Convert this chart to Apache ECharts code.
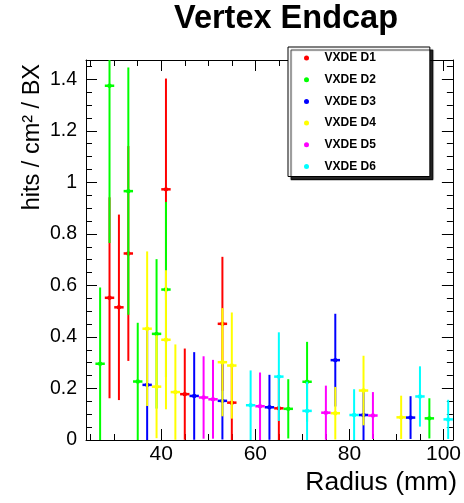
<!DOCTYPE html>
<html>
<head>
<meta charset="utf-8">
<script src="https://cdn.jsdelivr.net/npm/echarts@6/dist/echarts.min.js"></script>
<style>
    html, body { margin: 0; padding: 0; background: #fff; }
    #chart { width: 464px; height: 503px; }
</style>
</head>
<body>
<div id="chart"></div>
<script>
    // bin centre (mm), rate (hits / cm2 / BX) and vertical error, one set per disk
    var d1X = [29, 31, 33, 41, 45, 53, 55, 65];
    var d1Y = [0.552, 0.515, 0.724, 0.973, 0.178, 0.451, 0.145, 0.123];
    var d1Err = [0.39, 0.36, 0.417, 0.43, 0.177, 0.26, 0.145, 0.123];

    var d2X = [27, 29, 33, 35, 39, 41, 67, 71, 97];
    var d2Y = [0.296, 1.375, 0.966, 0.227, 0.412, 0.584, 0.121, 0.226, 0.084];
    var d2Err = [0.296, 0.61, 0.48, 0.228, 0.29, 0.34, 0.115, 0.155, 0.078];

    var d3X = [37, 47, 53, 63, 77, 83, 93];
    var d3Y = [0.214, 0.171, 0.152, 0.127, 0.31, 0.097, 0.087];
    var d3Err = [0.22, 0.17, 0.15, 0.126, 0.18, 0.097, 0.083];

    var d4X = [37, 39, 41, 43, 53, 55, 77, 83, 91];
    var d4Y = [0.432, 0.207, 0.389, 0.186, 0.302, 0.289, 0.104, 0.192, 0.088];
    var d4Err = [0.30, 0.2, 0.27, 0.185, 0.21, 0.206, 0.102, 0.135, 0.084];

    var d5X = [49, 51, 61, 75, 85];
    var d5Y = [0.165, 0.158, 0.131, 0.106, 0.095];
    var d5Err = [0.16, 0.153, 0.131, 0.105, 0.091];

    var d6X = [59, 65, 71, 81, 95, 101];
    var d6Y = [0.135, 0.246, 0.113, 0.097, 0.169, 0.08];
    var d6Err = [0.135, 0.172, 0.113, 0.1, 0.117, 0.076];

    var binHalfWidth = 1;
    var xLabelValues = [40, 60, 80, 100];

    var seriesNames = ['VXDE D1', 'VXDE D2', 'VXDE D3', 'VXDE D4', 'VXDE D5', 'VXDE D6'];
    var seriesColors = ['#ff0000', '#00ff00', '#0000ff', '#ffff00', '#ff00ff', '#00ffff'];

    var FONT = '"Liberation Sans", Arial, Helvetica, sans-serif';

    function toPoints(xs, ys, errs) {
        return xs.map(function (x, i) { return [x, ys[i], errs[i]]; });
    }

    var allPoints = [
        toPoints(d1X, d1Y, d1Err),
        toPoints(d2X, d2Y, d2Err),
        toPoints(d3X, d3Y, d3Err),
        toPoints(d4X, d4Y, d4Err),
        toPoints(d5X, d5Y, d5Err),
        toPoints(d6X, d6Y, d6Err)
    ];

    function errorBar(color) {
        return function (params, api) {
            var x = api.value(0), y = api.value(1), e = api.value(2);
            var c = api.coord([x, y]);
            var hi = api.coord([x, y + e]);
            var lo = api.coord([x, y - e]);
            var l = api.coord([x - binHalfWidth, y]);
            var r = api.coord([x + binHalfWidth, y]);
            return {
                type: 'group',
                children: [
                    { type: 'line', shape: { x1: c[0], y1: hi[1], x2: c[0], y2: lo[1] },
                      style: { stroke: color, lineWidth: 2 } },
                    { type: 'line', shape: { x1: l[0], y1: c[1], x2: r[0], y2: c[1] },
                      style: { stroke: color, lineWidth: 2.5 } },
                    { type: 'circle', shape: { cx: c[0], cy: c[1], r: 2.2 },
                      style: { fill: color } }
                ]
            };
        };
    }

    var series = seriesNames.map(function (name, i) {
        return {
            name: name,
            type: 'custom',
            xAxisIndex: 0,
            yAxisIndex: 0,
            clip: true,
            itemStyle: { color: seriesColors[i] },
            renderItem: errorBar(seriesColors[i]),
            encode: { x: 0, y: 1 },
            data: allPoints[i]
        };
    });

    function xAxisDef(position, split, tickLen, withLabels, showLine) {
        return {
            type: 'value',
            position: position,
            min: 24,
            max: 102,
            splitNumber: split,
            axisLine: { show: showLine, onZero: false, lineStyle: { color: '#000', width: 1 } },
            axisTick: { show: true, inside: true, length: tickLen, lineStyle: { color: '#000', width: 1 } },
            axisLabel: {
                show: withLabels,
                showMinLabel: false,
                showMaxLabel: false,
                color: '#000',
                fontFamily: FONT,
                fontSize: 21,
                margin: 4,
                formatter: function (v) { return xLabelValues.indexOf(v) >= 0 ? String(v) : ''; }
            },
            splitLine: { show: false }
        };
    }

    function yAxisDef(position, opts, tickLen, withLabels, showLine) {
        var a = {
            type: 'value',
            position: position,
            min: 0,
            max: 1.475,
            axisLine: { show: showLine, onZero: false, lineStyle: { color: '#000', width: 1 } },
            axisTick: { show: true, inside: true, length: tickLen, lineStyle: { color: '#000', width: 1 } },
            axisLabel: {
                show: withLabels,
                showMaxLabel: false,
                color: '#000',
                fontFamily: FONT,
                fontSize: 19.5,
                margin: 9
            },
            splitLine: { show: false }
        };
        for (var k in opts) a[k] = opts[k];
        return a;
    }

    var chart = echarts.init(document.getElementById('chart'));
    var option = {
        animation: false,
        backgroundColor: '#fff',
        title: {
            text: 'Vertex Endcap',
            left: 286,
            textAlign: 'center',
            top: 3,
            padding: 0,
            textStyle: { fontFamily: FONT, fontSize: 32.5, fontWeight: 'bold', color: '#000' }
        },
        legend: {
            data: seriesNames,
            orient: 'vertical',
            left: 288,
            top: 47,
            icon: 'circle',
            itemWidth: 22,
            itemHeight: 5,
            itemGap: 7.7,
            padding: [4, 54, 3, 16],
            backgroundColor: '#fff',
            borderColor: '#000',
            borderWidth: 1,
            shadowColor: 'rgba(0,0,0,0.85)',
            shadowBlur: 1,
            shadowOffsetX: 3,
            shadowOffsetY: 3,
            textStyle: { fontFamily: FONT, fontSize: 12, fontWeight: 'bold', color: '#000',
                         lineHeight: 14, padding: [0, 0, 0, 2] }
        },
        grid: { left: 86, right: 8, top: 60, bottom: 63, containLabel: false },
        xAxis: [
            xAxisDef('bottom', 4, 11, true, true),
            xAxisDef('bottom', 16, 6, false, false),
            xAxisDef('top', 4, 11, false, true),
            xAxisDef('top', 16, 6, false, false)
        ],
        yAxis: [
            yAxisDef('left', { interval: 0.2 }, 11, true, true),
            yAxisDef('left', { splitNumber: 30 }, 6, false, false),
            yAxisDef('right', { interval: 0.2 }, 11, false, true),
            yAxisDef('right', { splitNumber: 30 }, 6, false, false)
        ],
        graphic: [
            {
                type: 'text',
                x: 457,
                y: 469,
                style: { text: 'Radius (mm)', fontFamily: FONT, fontSize: 26.5, fill: '#000',
                         align: 'right', verticalAlign: 'top' }
            },
            {
                type: 'text',
                x: 21,
                y: 64,
                rotation: Math.PI / 2,
                style: { text: 'hits / cm\u00b2 / BX', fontFamily: FONT, fontSize: 23.5, fill: '#000',
                         align: 'right', verticalAlign: 'top' }
            }
        ],
        series: series
    };
    chart.setOption(option);
</script>
</body>
</html>
